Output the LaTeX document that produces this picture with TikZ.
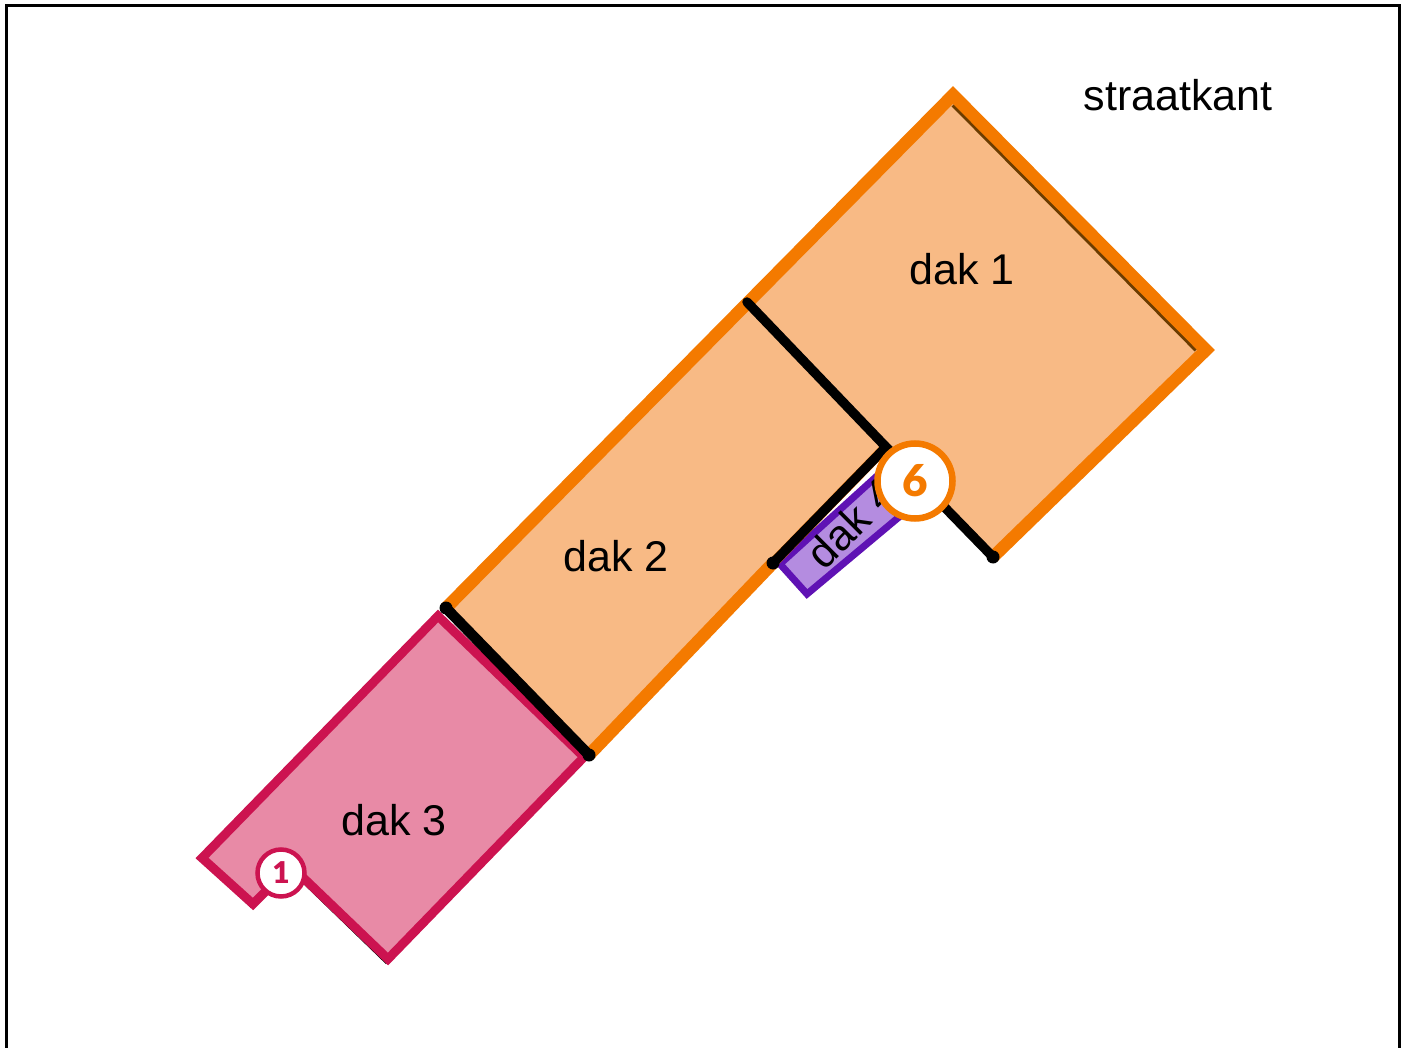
\documentclass[tikz,border=0pt]{standalone}
\usepackage{fontspec}
\setmainfont{Liberation Sans}
\newfontfamily\badgefont{Lato Black}
\usetikzlibrary{positioning}
\definecolor{dakoranje}{HTML}{F47A00}
\definecolor{dakperzik}{HTML}{F8BA85}
\definecolor{dakroze}{HTML}{E88AA6}
\definecolor{dakrood}{HTML}{CC1350}
\definecolor{dakpaars}{HTML}{5F12B4}
\definecolor{daklila}{HTML}{B48CE0}
\definecolor{dakbruin}{HTML}{6B3C00}
\tikzset{
	daklabel/.style={font=\fontsize{43}{50}\selectfont, inner sep=0pt},
	dakrand/.style={line width=12.5pt, line join=miter},
	scheiding/.style={line width=9.5pt, line cap=round, black},
	badgeoranje/.style={circle, draw=dakoranje, fill=white, line width=6.5pt, minimum size=75pt, inner sep=0pt, text=dakoranje, font=\fontsize{44}{46}\badgefont},
	badgerood/.style={circle, draw=dakrood, fill=white, line width=4.5pt, minimum size=47pt, inner sep=0pt, text=dakrood, font=\fontsize{30}{32}\badgefont}
}

\begin{document}
\begin{tikzpicture}[x=1pt, y=-1pt]
	\useasboundingbox (0,0) rectangle (1405,1048);
	% kader, onderkant valt buiten beeld
	\draw[line width=3pt] (6.5,1060) -- (6.5,5.5) -- (1399,5.5) -- (1399,1060);

	% hoekpunten
	\coordinate (top) at (953,95);
	\coordinate (rechts) at (1206,350);
	\coordinate (onder) at (993,557);
	\coordinate (knik) at (886,447);
	\coordinate (midden) at (747,302);
	\coordinate (voet) at (773,563);
	\coordinate (grens1) at (446,608);
	\coordinate (grens2) at (589,755);
	\coordinate (roodtop) at (438,616);
	\coordinate (roodrechts) at (584,757);
	\coordinate (roodonder) at (388,959);
	\coordinate (roodnotch) at (291,866);
	\coordinate (roodklein) at (253,904);
	\coordinate (roodlinks) at (202,858);

	% dak 3
	\draw[black, line width=3pt] ([xshift=-1pt, yshift=-3pt]roodnotch) -- ([xshift=-1pt, yshift=-4pt]roodonder);
	\draw[black, line width=3pt] ([xshift=-1pt, yshift=-3pt]roodklein) -- ([xshift=1pt, yshift=-1pt]roodlinks);
	\filldraw[fill=dakroze, draw=dakrood, line width=9pt]
	(roodtop) -- (roodrechts) -- (roodonder) -- (roodnotch) -- (roodklein) -- (roodlinks) -- cycle;

	% dak 4
	\filldraw[fill=daklila, draw=dakpaars, line width=7pt]
	(780,564) -- (888,466) -- (905,512) -- (807,594) -- cycle;
	\node[daklabel, rotate=45] (dak4) at (851,523) {dak 4};

	% dak 1 en dak 2
	\fill[dakperzik] (top) -- (rechts) -- (onder) -- (knik) -- (voet) -- (grens2) -- (grens1) -- cycle;
	\draw[dakbruin, line width=4pt] ([yshift=-10pt]top) -- ([xshift=-10pt]rechts);
	\draw[dakrand, dakoranje, line width=10pt] (knik) -- (voet);
	\draw[dakrand, dakoranje] (voet) -- (grens2);
	\draw[dakrand, dakoranje] (grens1) -- (top) -- (rechts) -- (onder);

	% scheidingen
	\draw[scheiding] (midden) -- (knik) -- (voet);
	\draw[scheiding] (knik) -- (onder);
	\draw[scheiding, line width=10.5pt] (grens1) -- (grens2);
	\fill (voet) circle (6.5pt);
	\fill (onder) circle (6.5pt);
	\fill (grens1) circle (6.5pt);
	\fill (grens2) circle (6.5pt);

	\node[daklabel] (dak1) at (962,269) {dak 1};
	\node[daklabel] (dak2) at (616,556) {dak 2};
	\node[daklabel] (dak3) at (394,820) {dak 3};
	\node[daklabel] (straat) at (1178,95) {straatkant};

	\node[badgeoranje] (badge6) at (915,481) {6};
	\node[badgerood] (badge1) at (281,873) {1};
\end{tikzpicture}
\end{document}
